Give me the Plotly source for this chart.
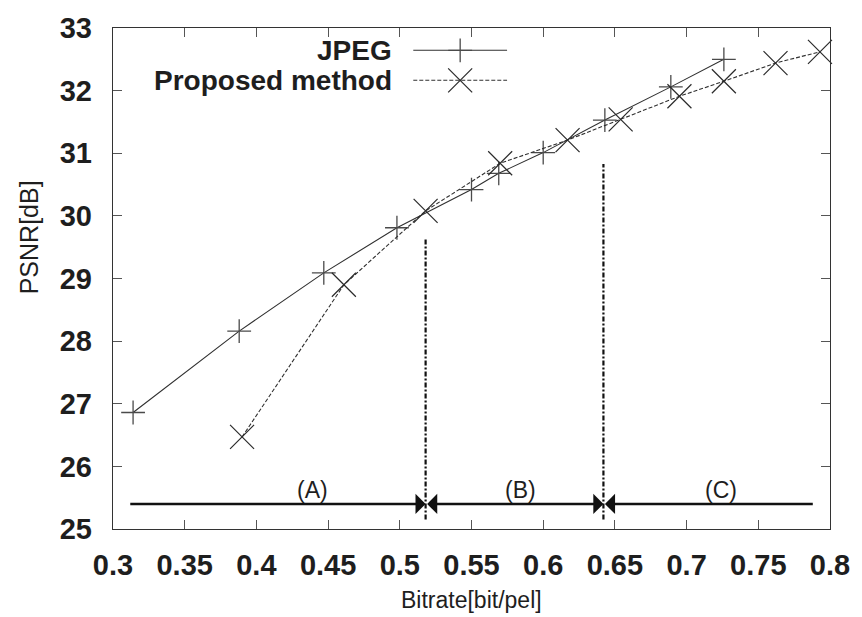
import plotly.graph_objects as go

# ---- data ----
jpeg_rate = [0.314, 0.388, 0.447, 0.498, 0.550, 0.569, 0.600, 0.643, 0.689, 0.726]
jpeg_psnr = [26.86, 28.16, 29.09, 29.81, 30.42, 30.68, 31.01, 31.53, 32.06, 32.50]

prop_rate = [0.390, 0.461, 0.518, 0.570, 0.617, 0.654, 0.695, 0.726, 0.762, 0.793]
prop_psnr = [26.47, 28.90, 30.08, 30.84, 31.21, 31.54, 31.91, 32.15, 32.44, 32.62]

region_bounds = [0.311, 0.518, 0.642, 0.788]       # arrow start/ends on bitrate axis
region_names = ["(A)", "(B)", "(C)"]
region_label_x = [0.439, 0.584, 0.724]
arrow_psnr = 25.4
label_psnr = 25.63
divider_x = [0.518, 0.642]
divider_top = [29.63, 30.83]
divider_bottom = 25.15

x_ticks = [0.3, 0.35, 0.4, 0.45, 0.5, 0.55, 0.6, 0.65, 0.7, 0.75, 0.8]
x_tick_text = ["0.3", "0.35", "0.4", "0.45", "0.5", "0.55", "0.6", "0.65", "0.7", "0.75", "0.8"]
y_ticks = [25, 26, 27, 28, 29, 30, 31, 32, 33]
y_tick_text = [str(v) for v in y_ticks]

series_names = ["JPEG", "Proposed method"]

BOLD = "Liberation Sans, Arial, sans-serif"
INK = "#1e1e1e"

fig = go.Figure()

fig.add_trace(go.Scatter(
    x=jpeg_rate, y=jpeg_psnr, mode="lines+markers", name=series_names[0],
    line=dict(color="#303030", width=1.1),
    marker=dict(symbol="cross-thin-open", size=17, color="#4a4a4a",
                line=dict(width=1.3, color="#4a4a4a")),
    showlegend=False, cliponaxis=False))

fig.add_trace(go.Scatter(
    x=prop_rate, y=prop_psnr, mode="lines+markers", name=series_names[1],
    line=dict(color="#303030", width=1.1, dash="4px,2px"),
    marker=dict(symbol="x-thin-open", size=24, color="#2a2a2a",
                line=dict(width=1.2, color="#2a2a2a")),
    showlegend=False, cliponaxis=False))

# dividing dash-dot lines
for dx, top in zip(divider_x, divider_top):
    fig.add_trace(go.Scatter(
        x=[dx, dx], y=[divider_bottom, top], mode="lines",
        line=dict(color="#111111", width=2.2, dash="5px,2px,2px,2px"),
        showlegend=False, hoverinfo="skip"))

# region arrows
arrow_sides = ["end", "end+start", "start"]
for i in range(3):
    fig.add_annotation(
        x=region_bounds[i + 1], y=arrow_psnr, ax=region_bounds[i], ay=arrow_psnr,
        xref="x", yref="y", axref="x", ayref="y", text="",
        showarrow=True, arrowhead=1, startarrowhead=1, arrowside=arrow_sides[i],
        arrowwidth=2.6, arrowsize=1.3, startarrowsize=1.3,
        arrowcolor="#111111", standoff=0, startstandoff=0)
    fig.add_annotation(
        x=region_label_x[i], y=label_psnr, xref="x", yref="y",
        text=region_names[i], showarrow=False,
        font=dict(family=BOLD, size=23, color=INK))

# manual gnuplot-style legend (text, then sample) on an overlay axis
leg_y = [0.9555, 0.8956]
leg_line_x = [0.4188, 0.5496]
leg_mark_x = [0.4842]
leg_text_x = 0.3913
fig.add_trace(go.Scatter(
    x=leg_line_x, y=[leg_y[0]] * 2, mode="lines", xaxis="x2", yaxis="y2",
    line=dict(color="#303030", width=1.1), showlegend=False, hoverinfo="skip"))
fig.add_trace(go.Scatter(
    x=leg_mark_x, y=[leg_y[0]], mode="markers", xaxis="x2", yaxis="y2",
    marker=dict(symbol="cross-thin-open", size=17, color="#4a4a4a",
                line=dict(width=1.3, color="#4a4a4a")),
    showlegend=False, hoverinfo="skip"))
fig.add_trace(go.Scatter(
    x=leg_line_x, y=[leg_y[1]] * 2, mode="lines", xaxis="x2", yaxis="y2",
    line=dict(color="#303030", width=1.1, dash="4px,2px"), showlegend=False, hoverinfo="skip"))
fig.add_trace(go.Scatter(
    x=leg_mark_x, y=[leg_y[1]], mode="markers", xaxis="x2", yaxis="y2",
    marker=dict(symbol="x-thin-open", size=24, color="#2a2a2a",
                line=dict(width=1.2, color="#2a2a2a")),
    showlegend=False, hoverinfo="skip"))
for name, ly in zip(series_names, leg_y):
    fig.add_annotation(x=leg_text_x, y=ly, xref="paper", yref="paper",
                       text="<b>%s</b>" % name, showarrow=False,
                       xanchor="right", yanchor="middle",
                       font=dict(family=BOLD, size=28, color=INK))

# axis titles
fig.add_annotation(x=-0.1159, y=0.582, xref="paper", yref="paper",
                   text="PSNR[dB]", textangle=-90, showarrow=False,
                   xanchor="center", yanchor="middle",
                   font=dict(family=BOLD, size=25, color=INK))
fig.add_annotation(x=0.5, y=-0.1423, xref="paper", yref="paper",
                   text="Bitrate[bit/pel]", showarrow=False,
                   xanchor="center", yanchor="middle",
                   font=dict(family=BOLD, size=23, color=INK))

axis_common = dict(showgrid=False, zeroline=False, showline=True, linecolor="#333333",
                   linewidth=1.4, mirror="ticks", ticks="inside", ticklen=9,
                   tickwidth=1.2, tickcolor="#555555",
                   tickfont=dict(family=BOLD, size=29, color=INK, weight="bold"))

fig.update_layout(
    width=862, height=617,
    margin=dict(l=113, r=23, t=28, b=88),
    paper_bgcolor="white", plot_bgcolor="white",
    xaxis=dict(range=[0.3, 0.8], tickvals=x_ticks, ticktext=x_tick_text,
               ticklabelstandoff=10, **axis_common),
    yaxis=dict(range=[25, 33], tickvals=y_ticks, ticktext=y_tick_text,
               ticklabelstandoff=14, **axis_common),
    xaxis2=dict(range=[0, 1], overlaying="x", visible=False),
    yaxis2=dict(range=[0, 1], overlaying="y", visible=False),
    showlegend=False,
)

fig.write_html("out.html")
